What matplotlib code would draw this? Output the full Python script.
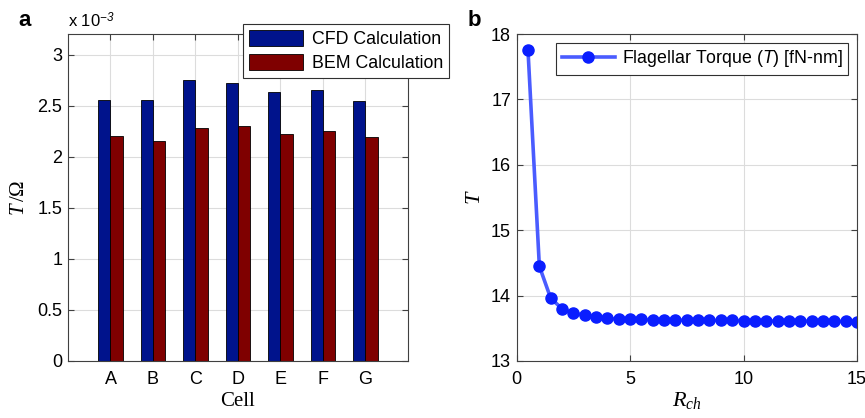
import matplotlib
matplotlib.use("Agg")
import matplotlib.pyplot as plt
import numpy as np

plt.rcParams['font.family'] = ['Liberation Sans', 'DejaVu Sans']
plt.rcParams['mathtext.fontset'] = 'custom'
plt.rcParams['mathtext.rm'] = 'Liberation Serif'
plt.rcParams['mathtext.it'] = 'Liberation Serif:italic'
plt.rcParams['mathtext.sf'] = 'Liberation Sans:italic'

# panel a data (units of 1e-3)
cells = ['A', 'B', 'C', 'D', 'E', 'F', 'G']
cfd = [2.555, 2.555, 2.748, 2.722, 2.630, 2.656, 2.545]
bem = [2.201, 2.149, 2.280, 2.300, 2.218, 2.250, 2.190]

# panel b data
r_ch = [0.5, 1.0, 1.5, 2.0, 2.5, 3.0, 3.5, 4.0, 4.5, 5.0,
        5.5, 6.0, 6.5, 7.0, 7.5, 8.0, 8.5, 9.0, 9.5, 10.0,
        10.5, 11.0, 11.5, 12.0, 12.5, 13.0, 13.5, 14.0, 14.5, 15.0]
torque = [17.75, 14.45, 13.96, 13.80, 13.73, 13.70, 13.67, 13.65, 13.64, 13.64,
          13.635, 13.63, 13.63, 13.625, 13.625, 13.62, 13.62, 13.62, 13.62, 13.615,
          13.615, 13.615, 13.61, 13.61, 13.61, 13.61, 13.61, 13.605, 13.605, 13.60]

fig = plt.figure(figsize=(8.65, 4.18), dpi=100)
axa = fig.add_axes([0.0786, 0.1364, 0.393, 0.782])
axb = fig.add_axes([0.5973, 0.1364, 0.3934, 0.782])

def style(ax):
    ax.grid(True, color='#dcdcdc', lw=0.8)
    ax.set_axisbelow(True)
    for s in ax.spines.values():
        s.set_color('#404040')
        s.set_linewidth(0.8)
    ax.tick_params(direction='in', top=True, right=True, labelsize=13,
                   color='#404040', length=4)
    ax.tick_params(axis='x', pad=7)
    ax.tick_params(axis='y', pad=4)

# ---- panel a
x = np.arange(1, len(cells) + 1)
w = 0.29
axa.bar(x - w/2, cfd, w, color='#00138c', edgecolor='black', lw=0.6, label='CFD Calculation')
axa.bar(x + w/2, bem, w, color='#7f0000', edgecolor='black', lw=0.6, label='BEM Calculation')
axa.set_xlim(0, 8)
axa.set_ylim(0, 3.2)
axa.set_xticks(x)
axa.set_xticklabels(cells)
axa.set_yticks([0, 0.5, 1, 1.5, 2, 2.5, 3])
axa.set_yticklabels(['0', '0.5', '1', '1.5', '2', '2.5', '3'])
style(axa)
axa.set_xlabel('Cell', family='Liberation Serif', fontsize=15, labelpad=3)
axa.set_ylabel(r'$T\,/\Omega$', fontsize=15, labelpad=7)
fig.text(68/865, 1 - 27/418, r'x 10$^{\mathsf{-3}}$', fontsize=12, va='baseline')
leg = axa.legend(loc='upper right', bbox_to_anchor=(449/865, 1 - 24/418),
                 bbox_transform=fig.transFigure, fontsize=12.8, fancybox=False,
                 edgecolor='#303030', framealpha=1, borderaxespad=0,
                 handlelength=3.0, handleheight=1.0, borderpad=0.35,
                 labelspacing=0.3, handletextpad=0.5)
leg.get_frame().set_linewidth(0.8)

# ---- panel b
axb.plot(r_ch, torque, '-', color='#4a5cff', lw=2.6, label='_line')
axb.plot(r_ch, torque, 'o', markersize=8, color='#0a1eff', label='_pts')
axb.plot([], [], '-o', color='#4a5cff', lw=2.6, markersize=8,
         markerfacecolor='#0a1eff', markeredgecolor='#0a1eff',
         label='Flagellar Torque ($\\mathsf{T}$) [fN-nm]')
axb.set_xlim(0, 15)
axb.set_ylim(13, 18)
axb.set_xticks([0, 5, 10, 15])
axb.set_yticks([13, 14, 15, 16, 17, 18])
style(axb)
axb.set_xlabel(r'$R_{ch}$', fontsize=16, labelpad=2)
axb.set_ylabel(r'$T$', fontsize=16, labelpad=4)
leg2 = axb.legend(loc='upper right', fontsize=12.8, fancybox=False,
                  edgecolor='#303030', framealpha=1, borderaxespad=0.5,
                  handlelength=3.0, borderpad=0.3, handletextpad=0.4)
leg2.get_frame().set_linewidth(0.8)

fig.text(18/865, 1 - 26/418, 'a', fontsize=16, fontweight='bold', va='baseline')
fig.text(468/865, 1 - 26/418, 'b', fontsize=16, fontweight='bold', va='baseline')

fig.savefig('out.png', dpi=100)
